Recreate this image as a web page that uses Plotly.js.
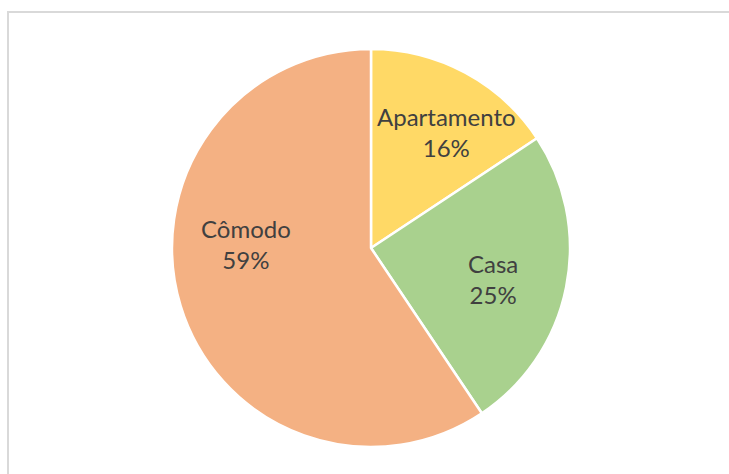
<!DOCTYPE html>
<html>
<head>
<meta charset="utf-8">
<script src="https://cdn.plot.ly/plotly-3.0.1.min.js"></script>
<style>html,body{margin:0;padding:0;background:#fff;}#chart{width:729px;height:474px;}</style>
</head>
<body>
<div id="chart"></div>
<script>
const categories = ["Apartamento", "Casa", "Cômodo"];
const values = [15.7, 24.9, 59.4];
const colors = ["#FFD966", "#A9D18E", "#F4B183"];

// label placement tuning (Excel "best fit" style): angle shift (deg) and radius fraction
const labelAngleShift = [4.9, 3.0, 18.7];
const labelRadius = [0.697, 0.633, 0.629];

const W = 729, H = 474;
const cx = 371, cy = 248, R = 199;

const trace = {
  type: "pie",
  labels: categories,
  values: values,
  sort: false,
  direction: "clockwise",
  rotation: 0,
  marker: {colors: colors, line: {color: "#ffffff", width: 2.5}},
  textinfo: "none",
  hoverinfo: "none",
  showlegend: false,
  domain: {x: [(cx - R) / W, (cx + R) / W], y: [(H - cy - R) / H, (H - cy + R) / H]}
};

const total = values.reduce((a, b) => a + b, 0);
let cum = 0;
const annotations = categories.map((cat, i) => {
  const frac = values[i] / total;
  const mid = (cum + frac / 2) * 360 + labelAngleShift[i];
  cum += frac;
  const rad = mid * Math.PI / 180;
  const r = labelRadius[i] * R;
  const px = cx + r * Math.sin(rad);
  const py = cy - r * Math.cos(rad);
  return {
    xref: "paper", yref: "paper",
    x: px / W, y: 1 - py / H,
    xanchor: "center", yanchor: "middle",
    text: cat + "<br>" + Math.round(frac * 100) + "%",
    showarrow: false,
    align: "center",
    font: {family: "Lato, 'Open Sans', sans-serif", size: 24, color: "#404040"}
  };
});

const layout = {
  width: W, height: H,
  margin: {l: 0, r: 0, t: 0, b: 0},
  paper_bgcolor: "#ffffff",
  showlegend: false,
  annotations: annotations,
  shapes: [{
    type: "rect", xref: "paper", yref: "paper",
    x0: 8 / W, x1: 1.02, y0: -0.02, y1: 1 - 12 / H,
    line: {color: "#d9d9d9", width: 2}, fillcolor: "rgba(0,0,0,0)"
  }]
};

Plotly.newPlot("chart", [trace], layout, {displayModeBar: false, staticPlot: true});
</script>
</body>
</html>
